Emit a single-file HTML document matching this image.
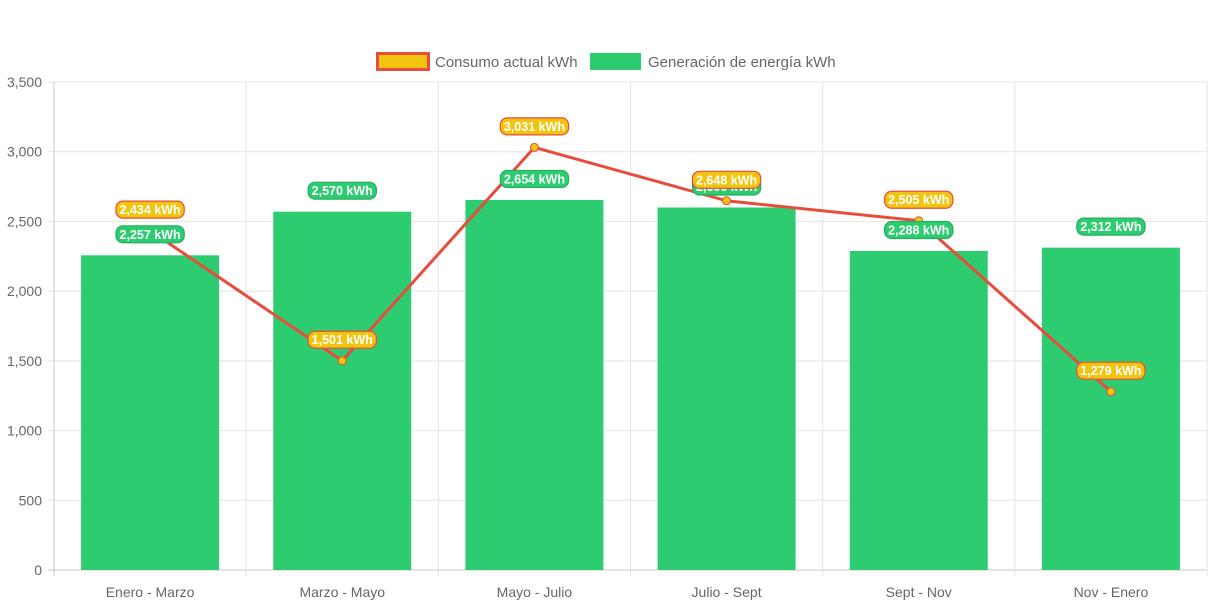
<!DOCTYPE html>
<html><head><meta charset="utf-8"><style>
body{margin:0;background:#fff;font-family:"Liberation Sans",Arial,sans-serif}
svg text{font-family:"Liberation Sans",Arial,sans-serif}
</style></head><body>
<svg id="c" width="1213" height="606"></svg>
<script>
const categories=["Enero - Marzo","Marzo - Mayo","Mayo - Julio","Julio - Sept","Sept - Nov","Nov - Enero"];
const generation=[2257,2570,2654,2600,2288,2312];
const consumption=[2434,1501,3031,2648,2505,1279];
const yTicks=[0,500,1000,1500,2000,2500,3000,3500];
const NS="http://www.w3.org/2000/svg";
const svg=document.getElementById('c');
const X0=54,X1=1207,Y0=570,Y1=82,YMAX=3500;
const bw=(X1-X0)/categories.length;
const y=v=>Y0-(v/YMAX)*(Y0-Y1);
const xc=i=>X0+bw*(i+0.5);
function el(t,a,p){const e=document.createElementNS(NS,t);for(const k in a)e.setAttribute(k,a[k]);(p||svg).appendChild(e);return e;}
yTicks.forEach(t=>{
 const g=el('line',{x1:X0-6,x2:X1,y1:y(t),y2:y(t),stroke:t===0?'#c8c8c8':'#e4e4e4','stroke-width':1});
 
 
 const tx=el('text',{x:X0-12,y:y(t)+5,'text-anchor':'end','font-size':14,fill:'#666'});tx.textContent=t.toLocaleString('en-US');
 
 
});
for(let i=0;i<=categories.length;i++){
 const l=el('line',{x1:X0+bw*i,x2:X0+bw*i,y1:Y1,y2:Y0+6,stroke:i===0?'#c8c8c8':'#e4e4e4'});
 
 
}
categories.forEach((c,i)=>{
 const t=el('text',{x:xc(i),y:597,'text-anchor':'middle','font-size':14,fill:'#666'});t.textContent=c;
 
 
});
generation.forEach((v,i)=>{
 const r=el('rect',{x:xc(i)-69,y:y(v),width:138,height:Y0-y(v),fill:'#2ecc71'});
 
 
});
const pts=consumption.map((v,i)=>xc(i)+','+y(v)).join(' ');
const pl=el('polyline',{points:pts,fill:'none',stroke:'#e74c3c','stroke-width':3});


consumption.forEach((v,i)=>{
 const p=el('circle',{cx:xc(i),cy:y(v),r:4,fill:'#f1c40f',stroke:'#e74c3c','stroke-width':1});
 
 
});
function label(cx,cy,txt,fill,stroke,name){
 const g=el('g',{});
 
 
 const w=txt.length*6.7+8;
 el('rect',{x:cx-w/2,y:cy-8.5,width:w,height:17,rx:7,fill:fill,stroke:stroke,'stroke-width':1.2},g);
 const t=el('text',{x:cx,y:cy+4.5,'text-anchor':'middle','font-size':12.5,'font-weight':'bold',fill:'#fff'},g);
 t.textContent=txt;
}
generation.forEach((v,i)=>label(xc(i),y(v)-21,v.toLocaleString('en-US')+' kWh','#2ecc71','#27ae60','generation-value-label'));
consumption.forEach((v,i)=>label(xc(i),y(v)-21,v.toLocaleString('en-US')+' kWh','#f1c40f','#e74c3c','consumption-value-label'));
const lg=el('g',{});


const l1=el('g',{},lg);


el('rect',{x:377.5,y:53.5,width:51,height:16,fill:'#f1c40f',stroke:'#e74c3c','stroke-width':3},l1);
const t1=el('text',{x:435,y:67,'font-size':15,fill:'#666'},l1);t1.textContent='Consumo actual kWh';
const l2=el('g',{},lg);


el('rect',{x:590,y:53,width:51,height:17,fill:'#2ecc71'},l2);
const t2=el('text',{x:648,y:67,'font-size':15,fill:'#666'},l2);t2.textContent='Generación de energía kWh';
</script>
</body></html>
